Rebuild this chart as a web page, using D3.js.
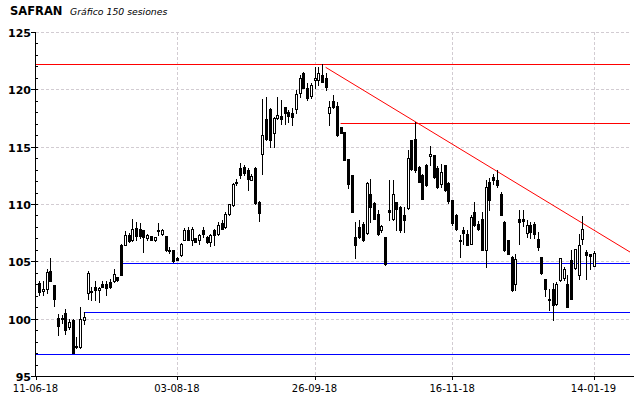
<!DOCTYPE html>
<html><head><meta charset="utf-8">
<script src="https://cdn.jsdelivr.net/npm/d3@7"></script>
<style>html,body{margin:0;padding:0;background:#fff}svg{display:block}</style>
</head><body>
<svg id="chart" width="640" height="398"></svg>
<script>
// ---- data ----
const title = "SAFRAN";
const subtitle = "Gráfico 150 sesiones";
const openVals = [103.1,102.4,102.6,104.2,102.9,100.1,99.96,100.5,99.3,99.9,97.6,97.5,99.9,102.2,102.4,102.8,102.5,103.0,103.05,103.2,103.3,103.6,106.45,106.46,107.33,106.83,107.9,107.85,107.7,107.0,107.18,106.83,107.65,107.35,107.18,105.9,106.0,105.3,105.52,106.9,107.7,106.83,107.0,106.83,107.76,107.12,106.68,107.7,107.41,108.35,108.0,109.16,109.9,111.9,113.18,113.24,112.95,112.13,113.1,110.2,114.35,117.4,118.3,116.15,117.46,117.66,118.48,118.04,117.96,118.25,119.64,121.44,120.08,119.44,120.81,120.81,121.24,120.95,117.96,119.0,118.54,116.73,116.3,113.9,112.5,107.13,108.0,108.29,107.47,110.9,110.09,109.16,107.77,107.13,109.51,108.73,110.18,109.74,109.02,109.69,115.57,115.71,113.24,112.51,113.38,114.17,114.25,113.18,111.72,113.38,111.8,110.32,109.0,106.85,107.7,107.41,106.54,109.3,108.29,108.72,106.0,111.92,112.36,112.13,110.9,108.43,106.83,105.4,103.05,108.73,108.73,107.47,108.14,108.29,106.98,105.38,103.49,101.74,102.61,101.3,103.34,103.57,102.99,105.14,104.45,103.78,106.98,105.81,105.67,104.62];
const highVals = [103.3,103.3,104.3,105.3,102.9,100.4,100.35,100.8,100.0,99.95,98.4,101.0,100.6,104.2,102.8,103.3,102.75,103.3,103.25,103.5,104.3,103.65,106.5,107.65,107.5,108.65,108.45,108.3,107.75,107.4,107.25,107.15,108.35,107.85,107.2,106.25,106.0,105.4,106.63,107.9,108.0,108.0,107.05,107.41,108.0,107.2,107.41,107.85,108.43,108.58,109.3,110.0,111.8,112.2,113.6,113.4,113.1,112.65,113.2,110.3,119.2,119.35,118.4,117.6,119.35,119.1,118.5,118.2,118.33,119.94,121.24,121.54,120.52,120.52,121.97,121.97,122.2,121.39,119.0,119.5,118.9,116.75,116.3,113.9,112.5,108.43,108.58,108.4,111.9,112.22,110.2,109.5,108.2,107.13,112.07,112.07,110.2,109.8,109.74,114.75,115.6,117.17,113.3,112.6,113.53,115.04,114.3,113.3,113.47,113.4,111.9,110.32,109.1,107.27,108.0,107.7,109.0,110.18,108.5,109.3,112.13,112.3,112.65,112.94,111.05,108.5,106.9,105.5,105.67,109.45,109.45,108.58,108.43,108.43,107.56,105.38,103.49,102.61,103.11,103.19,105.32,104.5,103.78,105.96,106.11,107.42,108.96,106.02,105.67,105.87];
const lowVals = [102.1,102.1,102.2,103.3,101.1,98.6,99.6,98.7,99.1,97.0,97.4,97.4,99.5,101.7,101.6,101.6,101.45,102.75,102.1,102.7,103.2,103.3,103.8,106.4,106.7,106.8,106.9,107.0,105.8,106.9,106.85,106.8,107.3,107.27,105.9,105.7,104.95,105.1,105.46,106.83,106.83,106.4,106.65,106.54,107.12,106.6,106.3,106.4,107.27,107.8,107.93,109.0,109.8,111.65,112.3,112.5,111.2,112.07,110.0,108.55,112.65,115.6,115.0,115.0,117.4,117.0,117.0,117.17,116.88,117.9,119.35,120.08,119.06,119.21,120.08,120.37,120.66,119.94,116.9,118.4,115.9,116.15,113.82,111.43,109.3,105.32,107.0,106.8,107.4,108.43,108.7,107.3,107.6,104.65,108.58,108.64,107.71,107.6,107.56,109.6,112.95,112.8,111.9,110.4,111.6,113.38,112.3,111.4,111.49,111.15,110.1,108.2,107.7,105.37,106.54,106.39,106.5,108.1,107.7,106.0,104.5,109.45,111.78,111.49,109.0,105.9,105.6,102.45,102.47,106.5,108.1,107.12,107.0,107.0,105.96,103.92,101.94,100.72,99.9,101.16,103.29,103.34,101.01,101.74,104.36,103.49,106.54,103.49,104.36,104.57];
const closeVals = [102.3,102.6,104.1,103.3,101.7,99.4,100.1,99.0,99.7,97.0,97.5,100.0,100.15,104.0,102.3,102.5,102.65,102.8,102.7,102.8,103.9,103.35,103.85,107.33,106.75,107.85,107.2,107.2,107.1,107.27,106.9,107.1,107.7,107.76,105.96,105.95,105.0,105.15,106.54,107.76,106.9,107.85,106.7,107.27,107.41,106.7,107.27,107.27,108.14,107.85,109.16,109.97,111.78,111.95,112.5,112.72,112.16,112.42,110.1,109.2,116.0,115.7,115.6,117.5,117.75,117.37,117.96,117.66,117.6,119.59,120.95,120.08,119.21,120.37,120.95,121.39,120.66,120.23,118.48,118.42,116.0,116.21,113.88,111.78,109.3,106.46,107.13,106.83,111.87,109.74,108.73,107.4,108.1,104.8,109.31,110.91,109.6,107.71,108.58,113.97,113.01,112.95,111.93,110.47,111.64,114.4,112.37,111.49,112.8,111.2,110.25,108.35,107.85,106.8,107.47,106.4,108.87,108.14,107.85,106.0,111.49,110.32,112.07,111.63,109.01,105.96,105.67,102.5,105.24,108.44,108.52,108.14,107.56,107.42,106.25,103.98,102.62,101.59,101.16,103.05,105.32,104.36,101.01,101.74,106.11,106.4,107.79,105.52,105.44,105.73];

const xTickLabels = ["11-06-18","03-08-18","26-09-18","16-11-18","14-01-19"];
const xTickSessions = [0,38,75,112,150];
const yTickValues = [95,100,105,110,115,120,125];

// horizontal support/resistance levels: value and first session
const levelValues = [122.2, 117.05, 104.87, 100.58, 96.92];
const levelStart = [0, 82, 23, 13, 0];
// trend line: two anchor points (session, value)
const trendSessions = [78, 150];
const trendValues = [121.92, 107.74];

// ---- styles ----
const levelColors = ["#ff0000","#ff0000","#0000ff","#0000ff","#0000ff"];
const gridColor = "#d2ccd2";

// ---- layout ----
const svg = d3.select("#chart");
const x = d3.scaleLinear().domain([0, 159.8]).range([35.5, 630]);
const y = d3.scaleLinear().domain([95, 125]).range([376, 32]);
const X0 = 35, Y0 = 376;
const xEnd = 630;

// grid (horizontal)
svg.append("g").selectAll("line").data(yTickValues.filter(v => v > 95)).join("line")
  .attr("x1", X0 + 1).attr("x2", xEnd)
  .attr("y1", d => Math.round(y(d)) + 0.5).attr("y2", d => Math.round(y(d)) + 0.5)
  .attr("stroke", gridColor).attr("stroke-dasharray", "3,2").attr("stroke-width", 1);
// grid (vertical)
svg.append("g").selectAll("line").data(xTickSessions.slice(1)).join("line")
  .attr("x1", d => Math.round(x(d)) + 0.5).attr("x2", d => Math.round(x(d)) + 0.5)
  .attr("y1", y(125)).attr("y2", Y0)
  .attr("stroke", gridColor).attr("stroke-dasharray", "3,2").attr("stroke-width", 1);

// level lines
svg.append("g").selectAll("line").data(levelValues).join("line")
  .attr("x1", (d, i) => levelStart[i] === 0 ? X0 + 1 : x(levelStart[i]))
  .attr("x2", xEnd)
  .attr("y1", d => Math.round(y(d)) + 0.5).attr("y2", d => Math.round(y(d)) + 0.5)
  .attr("stroke", (d, i) => levelColors[i]).attr("stroke-width", 1);

// trend line extended to right edge
const slope = (trendValues[1] - trendValues[0]) / (trendSessions[1] - trendSessions[0]);
const kEnd = x.invert(xEnd);
svg.append("line")
  .attr("x1", x(trendSessions[0])).attr("y1", y(trendValues[0]))
  .attr("x2", xEnd).attr("y2", y(trendValues[0] + slope * (kEnd - trendSessions[0])))
  .attr("stroke", "#ff0000").attr("stroke-width", 1);

// candles
const candles = openVals.map((o, i) => ({i, o, h: highVals[i], l: lowVals[i], c: closeVals[i]}));
const cg = svg.append("g");
const cxOf = d => Math.round(x(d.i + 1));
cg.selectAll("rect.wick").data(candles).join("rect").attr("class", "wick")
  .attr("x", cxOf).attr("width", 1)
  .attr("y", d => Math.round(y(d.h)))
  .attr("height", d => Math.round(y(d.l)) - Math.round(y(d.h)) + 1)
  .attr("fill", "#000");
cg.selectAll("rect.down").data(candles.filter(d => d.c < d.o)).join("rect").attr("class", "down")
  .attr("x", d => cxOf(d) - 1).attr("width", 3)
  .attr("y", d => Math.round(y(d.o)))
  .attr("height", d => Math.max(1, Math.round(y(d.c)) - Math.round(y(d.o)) + 1))
  .attr("fill", "#000");
cg.selectAll("rect.up").data(candles.filter(d => d.c >= d.o)).join("rect").attr("class", "up")
  .attr("x", d => cxOf(d) - 0.5).attr("width", 2)
  .attr("y", d => Math.round(y(d.c)) + 0.5)
  .attr("height", d => Math.max(1, Math.round(y(d.o)) - Math.round(y(d.c))))
  .attr("fill", "#fff").attr("stroke", "#000").attr("stroke-width", 1);

// axes lines
svg.append("line").attr("x1", X0 + 0.5).attr("x2", X0 + 0.5).attr("y1", Math.round(y(125))).attr("y2", Y0 + 1)
  .attr("stroke", "#000");
svg.append("line").attr("x1", X0).attr("x2", xEnd + 4).attr("y1", Y0 + 0.5).attr("y2", Y0 + 0.5)
  .attr("stroke", "#000");

// y ticks: minor every unit inside, major outside
const minor = d3.range(96, 125);
svg.append("g").selectAll("line").data(minor).join("line")
  .attr("x1", X0 + 1).attr("x2", X0 + 3)
  .attr("y1", d => Math.round(y(d)) + 0.5).attr("y2", d => Math.round(y(d)) + 0.5)
  .attr("stroke", "#000");
svg.append("g").selectAll("line").data(yTickValues).join("line")
  .attr("x1", X0 - 4).attr("x2", X0 + 1)
  .attr("y1", d => Math.round(y(d)) + 0.5).attr("y2", d => Math.round(y(d)) + 0.5)
  .attr("stroke", "#000");
svg.append("g").selectAll("text").data(yTickValues).join("text")
  .attr("x", X0 - 4).attr("y", d => Math.round(y(d)) + 4.5)
  .attr("text-anchor", "end")
  .attr("font-family", "DejaVu Sans").attr("font-weight", "bold").attr("font-size", 11)
  .attr("fill", "#000").text(d => d);

// x ticks
svg.append("g").selectAll("line").data(xTickSessions).join("line")
  .attr("x1", d => Math.round(x(d)) + 0.5).attr("x2", d => Math.round(x(d)) + 0.5)
  .attr("y1", Y0).attr("y2", Y0 + 4)
  .attr("stroke", "#000");
svg.append("g").selectAll("text").data(xTickSessions).join("text")
  .attr("x", d => x(d)).attr("y", 392)
  .attr("text-anchor", "middle")
  .attr("font-family", "DejaVu Sans").attr("font-size", 10)
  .attr("fill", "#000").text((d, i) => xTickLabels[i]);

// titles
svg.append("text").attr("x", 10).attr("y", 15)
  .attr("font-family", "DejaVu Sans").attr("font-weight", "bold").attr("font-size", 11.5)
  .attr("fill", "#000").text(title);
svg.append("text").attr("x", 70).attr("y", 14.5)
  .attr("font-family", "DejaVu Sans").attr("font-style", "italic").attr("font-size", 9.3)
  .attr("fill", "#000").text(subtitle);
</script>
</body></html>
